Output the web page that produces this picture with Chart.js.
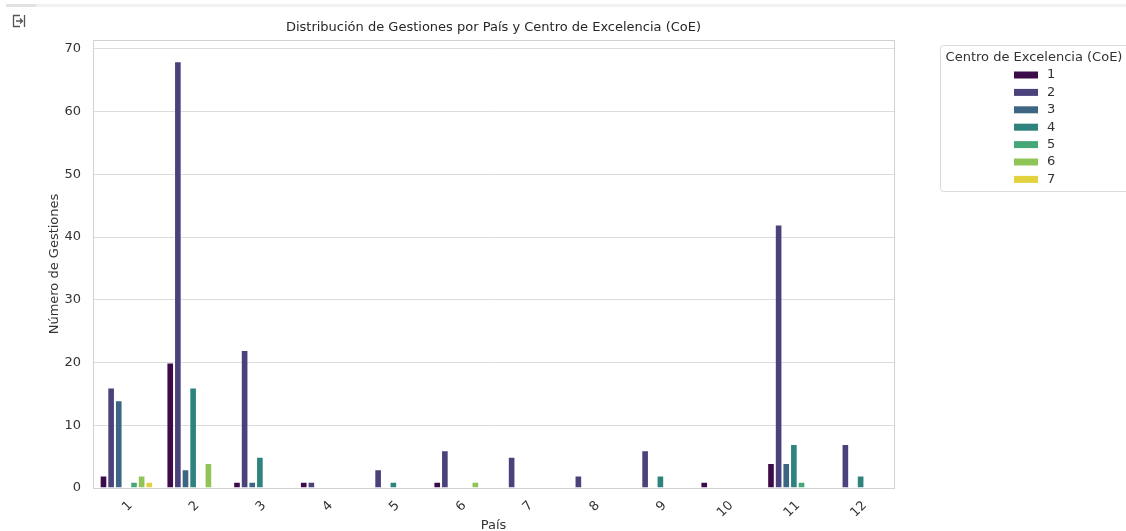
<!DOCTYPE html>
<html>
<head>
<meta charset="utf-8">
<script src="https://cdn.jsdelivr.net/npm/chart.js@4.4.1/dist/chart.umd.min.js"></script>
<style>
  html, body { margin: 0; padding: 0; background: #fff; }
  #wrap { position: relative; width: 1126px; height: 531px; overflow: hidden; }
  #topbar { position: absolute; left: 6px; top: 4px; width: 1120px; height: 3px; background: #f1f1f1; }
  #topbar span { position: absolute; left: 0; top: 0; width: 30px; height: 3px; background: #e2e2e2; }
  #icon { position: absolute; left: 11px; top: 13px; }
  canvas { position: absolute; left: 0; top: 0; }
</style>
</head>
<body>
<div id="wrap">
  <div id="topbar"><span></span></div>
  <svg id="icon" width="16" height="16" viewBox="0 0 16 16">
    <path d="M9 2.5 H2.5 V13.5 H9" fill="none" stroke="#555" stroke-width="1.3"/>
    <path d="M13.5 2 V14" fill="none" stroke="#555" stroke-width="1.3"/>
    <path d="M5 8 H11.5 M9 5.5 L11.5 8 L9 10.5" fill="none" stroke="#555" stroke-width="1.3"/>
  </svg>
  <canvas id="chart" width="1126" height="531"></canvas>
</div>
<script>
// chart data
const paises = ['1', '2', '3', '4', '5', '6', '7', '8', '9', '10', '11', '12'];
const coeLabels = ['1', '2', '3', '4', '5', '6', '7'];
const coe1 = [2, 20, 1, 1, null, 1, null, null, null, 1, 4, null];
const coe2 = [16, 68, 22, 1, 3, 6, 5, 2, 6, null, 42, 7];
const coe3 = [14, 3, 1, null, null, null, null, null, null, null, 4, null];
const coe4 = [null, 16, 5, null, 1, null, null, null, 2, null, 7, 2];
const coe5 = [1, null, null, null, null, null, null, null, null, null, 1, null];
const coe6 = [2, 4, null, null, null, 1, null, null, null, null, null, null];
const coe7 = [1, null, null, null, null, null, null, null, null, null, null, null];
const yTicksMax = 71.4;

// viridis, desaturated like seaborn does
const colors = ['#3e0b4a', '#4a427a', '#3d6682', '#2f837f', '#45a778', '#8fc556', '#e2d240'];

Chart.defaults.font.family = "'DejaVu Sans', sans-serif";
Chart.defaults.font.size = 13;
Chart.defaults.color = '#333333';

const series = [coe1, coe2, coe3, coe4, coe5, coe6, coe7];

// frame around the plot area (seaborn whitegrid spines)
const framePlugin = {
    id: 'frame',
    afterDatasetsDraw(chart) {
        const a = chart.chartArea;
        const ctx = chart.ctx;
        ctx.save();
        ctx.strokeStyle = '#d2d2d2';
        ctx.lineWidth = 1;
        ctx.strokeRect(Math.round(a.left) + 0.5, Math.round(a.top) + 0.5,
            Math.round(a.right - a.left), Math.round(a.bottom - a.top));
        ctx.restore();
    }
};

// legend box on the right
const legendPlugin = {
    id: 'sideLegend',
    afterDraw(chart) {
        const ctx = chart.ctx;
        ctx.save();
        ctx.fillStyle = 'rgba(255,255,255,0.9)';
        ctx.strokeStyle = '#dadada';
        ctx.lineWidth = 1;
        ctx.beginPath();
        ctx.roundRect(940.5, 45.5, 200, 146, 3);
        ctx.fill();
        ctx.stroke();

        ctx.fillStyle = '#333333';
        ctx.font = "13px 'DejaVu Sans'";
        ctx.textBaseline = 'middle';
        ctx.textAlign = 'center';
        ctx.fillText('Centro de Excelencia (CoE)', 1034, 58);

        ctx.textAlign = 'left';
        chart.data.datasets.forEach((ds, i) => {
            const y = 75 + i * 17.4;
            ctx.fillStyle = ds.backgroundColor;
            ctx.fillRect(1014, y - 3.5, 24, 7);
            ctx.fillStyle = '#333333';
            ctx.fillText(ds.label, 1047, y);
        });
        ctx.restore();
    }
};

new Chart(document.getElementById('chart'), {
    type: 'bar',
    data: {
        labels: paises,
        datasets: series.map((values, i) => ({
            label: coeLabels[i],
            data: values,
            backgroundColor: colors[i],
            borderColor: 'rgba(255,255,255,0.3)',
            borderWidth: 1,
            categoryPercentage: 0.8,
            barPercentage: 1.0
        }))
    },
    options: {
        responsive: false,
        animation: false,
        devicePixelRatio: 1,
        layout: {
            padding: { left: 47, right: 232, top: 0, bottom: 0 }
        },
        plugins: {
            legend: { display: false },
            tooltip: { enabled: false },
            title: {
                display: true,
                fullSize: false,
                text: 'Distribución de Gestiones por País y Centro de Excelencia (CoE)',
                color: '#262626',
                font: { size: 13, weight: 'normal' },
                padding: { top: 20, bottom: 4.4 }
            }
        },
        scales: {
            x: {
                grid: { display: false },
                border: { display: false },
                ticks: { minRotation: 45, maxRotation: 45, padding: 2, labelOffset: 4, color: '#333333' },
                title: { display: true, text: 'País', padding: { top: 0, bottom: -2 }, color: '#333333' },
                afterFit(scale) { scale.height = 43; }
            },
            y: {
                min: 0,
                max: yTicksMax,
                grid: { color: '#dcdcdc', drawTicks: false },
                border: { display: false },
                ticks: { stepSize: 10, includeBounds: false, padding: 12, color: '#333333' },
                title: { display: true, text: 'Número de Gestiones', padding: 0, color: '#333333' },
                afterFit(scale) { scale.width = 46; }
            }
        }
    },
    plugins: [framePlugin, legendPlugin]
});
</script>
</body>
</html>
